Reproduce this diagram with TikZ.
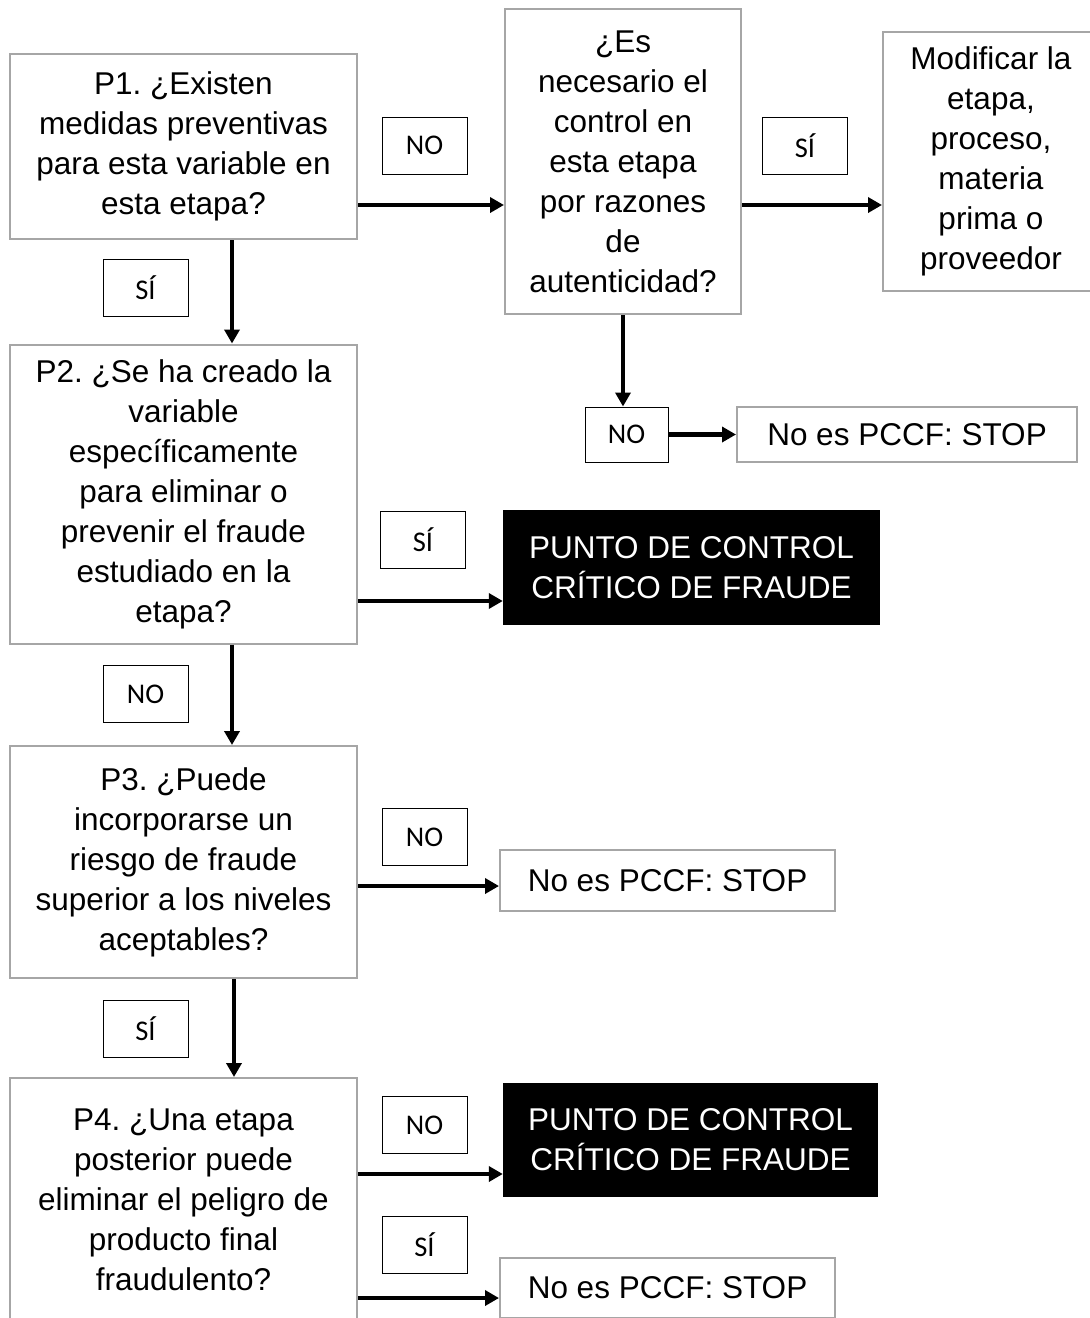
\documentclass[tikz,border=0pt]{standalone}
\usepackage{fontspec}
\setmainfont{Liberation Sans}
\newfontfamily\labelfont{Carlito}
\usetikzlibrary{arrows.meta}
\frenchspacing
\begin{document}
\begin{tikzpicture}[x=1pt, y=-1pt,
		question/.style={draw=black!35, line width=2pt, fill=white, inner sep=0pt, align=center, font=\fontsize{31.5}{40}\selectfont},
		stopbox/.style={question},
		pccf/.style={fill=black, text=white, inner sep=0pt, align=center, font=\fontsize{31.5}{40}\selectfont},
		answer/.style={draw=black, line width=1pt, inner sep=0pt, minimum width=85, minimum height=57, font=\labelfont\fontsize{28.5}{32}\selectfont},
		flow/.style={line width=4.5pt, -{Triangle[length=14pt, width=15pt]}}]
		\useasboundingbox (0,0) rectangle (1090,1318);
		\clip (0,0) rectangle (1090,1318);

		\node[question, minimum width=347, minimum height=185] (P1) at (183.5, 146.5) {P1. ¿Existen\\medidas preventivas\\para esta variable en\\esta etapa?};
		\node[question, minimum width=236, minimum height=305] (Q) at (623, 161.5) {¿Es\\necesario el\\control en\\esta etapa\\por razones\\de\\autenticidad?};
		\node[question, minimum width=216, minimum height=259] (modif) at (991, 161.5) {Modificar la\\etapa,\\proceso,\\materia\\prima o\\proveedor};
		\node[answer, minimum width=83, minimum height=55] (noQ) at (626.5, 434.5) {NO};
		\node[stopbox, minimum width=340, minimum height=55] (stop1) at (907, 434.5) {No es PCCF: STOP};
		\node[question, minimum width=347, minimum height=299] (P2) at (183.5, 494) {P2. ¿Se ha creado la\\variable\\específicamente\\para eliminar o\\prevenir el fraude\\estudiado en la\\etapa?};
		\node[pccf, minimum width=377, minimum height=115] (pccf1) at (691.5, 567.5) {PUNTO DE CONTROL\\CRÍTICO DE FRAUDE};
		\node[question, minimum width=347, minimum height=232] (P3) at (183.5, 862) {P3. ¿Puede\\incorporarse un\\riesgo de fraude\\superior a los niveles\\aceptables?};
		\node[stopbox, minimum width=335, minimum height=61] (stop2) at (667.5, 880.5) {No es PCCF: STOP};
		\node[question, minimum width=347, minimum height=244] (P4) at (183.5, 1200) {P4. ¿Una etapa\\posterior puede\\eliminar el peligro de\\producto final\\fraudulento?};
		\node[pccf, minimum width=375, minimum height=114] (pccf2) at (690.5, 1140) {PUNTO DE CONTROL\\CRÍTICO DE FRAUDE};
		\node[stopbox, minimum width=335, minimum height=60] (stop3) at (667.5, 1288) {No es PCCF: STOP};

		% respuestas
		\node[answer] (noP1) at (424.5, 145.5) {NO};
		\node[answer] (siQ) at (805, 146) {SÍ};
		\node[answer] (siP1) at (145.5, 288) {SÍ};
		\node[answer] (siP2) at (423, 539.5) {SÍ};
		\node[answer] (noP2) at (145.5, 694) {NO};
		\node[answer] (noP3) at (424.5, 837) {NO};
		\node[answer] (siP3) at (145.5, 1028.5) {SÍ};
		\node[answer] (noP4) at (424.5, 1125) {NO};
		\node[answer] (siP4) at (424.5, 1244.5) {SÍ};

		\draw[flow] (P1.east |- 0,205) -- (Q.west |- 0,205);
		\draw[flow] (Q.east |- 0,205) -- (modif.west |- 0,205);
		\draw[flow] (Q.south) -- (Q.south |- noQ.north);
		\draw[flow] (noQ) -- (stop1);
		\draw[flow] (P1.south -| 232,0) -- (P2.north -| 232,0);
		\draw[flow] (P2.east |- 0,601) -- (pccf1.west |- 0,601);
		\draw[flow] (P2.south -| 232,0) -- (P3.north -| 232,0);
		\draw[flow] (P3.east |- 0,886) -- (stop2.west |- 0,886);
		\draw[flow] (P3.south -| 234,0) -- (P4.north -| 234,0);
		\draw[flow] (P4.east |- 0,1174) -- (pccf2.west |- 0,1174);
		\draw[flow] (P4.east |- 0,1298) -- (stop3.west |- 0,1298);
	\end{tikzpicture}
\end{document}
